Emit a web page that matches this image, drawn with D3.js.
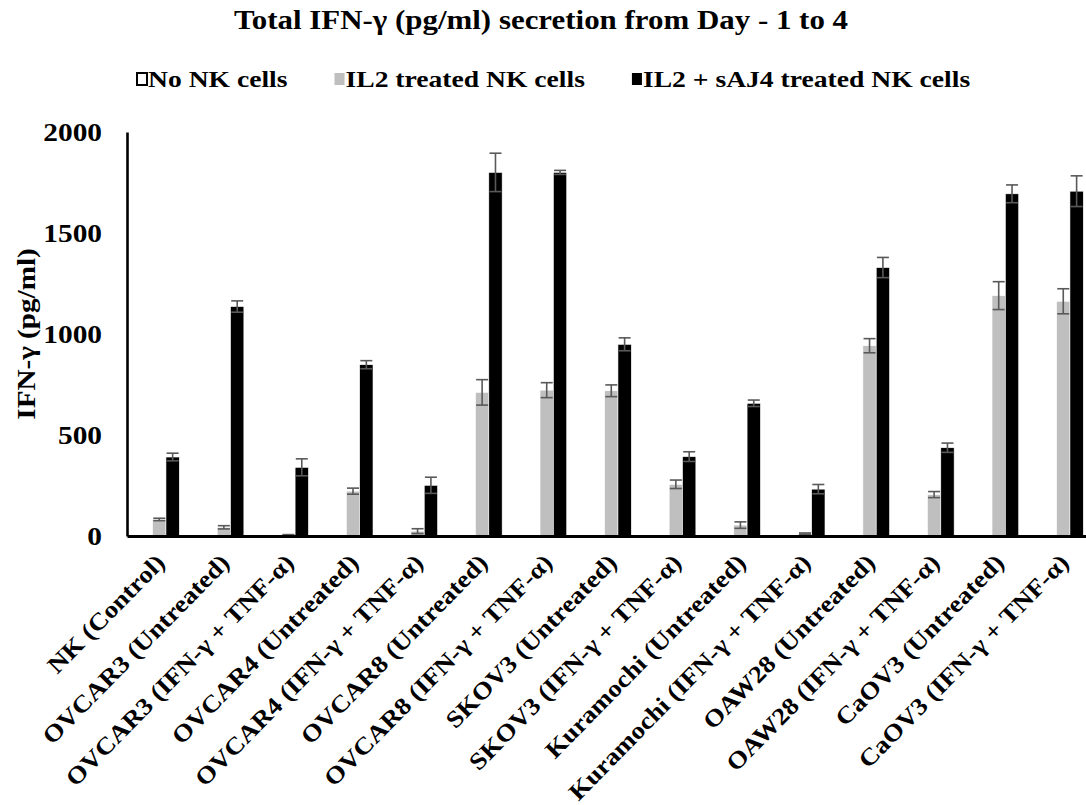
<!DOCTYPE html>
<html>
<head>
<meta charset="utf-8">
<script src="https://cdn.jsdelivr.net/npm/d3@7"></script>
<style>
  body { margin: 0; background: #fff; }
  text { font-family: "Liberation Serif", "Times New Roman", serif; font-weight: bold; fill: #000; }
</style>
</head>
<body>
<div id="chart"></div>
<script>
// Chart values
const categories = [
  "NK (Control)",
  "OVCAR3 (Untreated)",
  "OVCAR3 (IFN-γ + TNF-α)",
  "OVCAR4 (Untreated)",
  "OVCAR4 (IFN-γ + TNF-α)",
  "OVCAR8 (Untreated)",
  "OVCAR8 (IFN-γ + TNF-α)",
  "SKOV3 (Untreated)",
  "SKOV3 (IFN-γ + TNF-α)",
  "Kuramochi (Untreated)",
  "Kuramochi (IFN-γ + TNF-α)",
  "OAW28 (Untreated)",
  "OAW28 (IFN-γ + TNF-α)",
  "CaOV3 (Untreated)",
  "CaOV3 (IFN-γ + TNF-α)",
];
const seriesNames = ["No NK cells", "IL2 treated NK cells", "IL2 + sAJ4 treated NK cells"];
const noNK = [0, 0, 0, 0, 0, 0, 0, 0, 0, 0, 0, 0, 0, 0, 0];
const noNKErr = [0, 0, 0, 0, 0, 0, 0, 0, 0, 0, 0, 0, 0, 0, 0];
const il2 = [82, 43, 5, 222, 24, 711, 722, 719, 256, 54, 12, 942, 205, 1190, 1162];
const il2Err = [6, 8, 2, 15, 12, 63, 37, 29, 21, 16, 3, 35, 15, 69, 62];
const sAJ4 = [391, 1136, 340, 848, 251, 1800, 1800, 949, 393, 657, 232, 1329, 437, 1694, 1707];
const sAJ4Err = [19, 28, 42, 20, 40, 95, 10, 32, 24, 16, 23, 50, 23, 44, 76];
const yTicks = [0, 500, 1000, 1500, 2000];

const titleText = "Total IFN-γ (pg/ml) secretion from Day - 1 to 4";
const yLabel = "IFN-γ (pg/ml)";

const colors = ["#ffffff", "#bfbfbf", "#000000"];
const errColor = "#595959";

const width = 1086;
const height = 805;

// text in the reference is drawn wider than the font's natural width
function stretch(sel, factor) {
  sel.each(function () {
    const w = this.getComputedTextLength();
    d3.select(this)
      .attr("textLength", w * factor)
      .attr("lengthAdjust", "spacingAndGlyphs");
  });
}

const svg = d3
  .select("#chart")
  .append("svg")
  .attr("width", width)
  .attr("height", height);

svg.append("rect").attr("width", width).attr("height", height).attr("fill", "#fff");

// Scales
const plotLeft = 127;
const step = 64.57;
const x0 = d3
  .scaleBand()
  .domain(categories)
  .range([plotLeft, plotLeft + step * categories.length])
  .paddingInner(0.38)
  .paddingOuter(0.19);

const x1 = d3.scaleBand().domain(d3.range(3)).range([0, x0.bandwidth()]);

const y = d3.scaleLinear().domain([0, 2000]).range([536, 132]);

// Build rows for the bars
const seriesValues = [noNK, il2, sAJ4];
const seriesErrors = [noNKErr, il2Err, sAJ4Err];
const rows = [];
categories.forEach((c, i) => {
  seriesValues.forEach((vals, s) => {
    rows.push({ cat: c, s: s, value: vals[i], err: seriesErrors[s][i] });
  });
});

// Bars
svg
  .append("g")
  .selectAll("rect")
  .data(rows)
  .enter()
  .append("rect")
  .attr("x", (d) => x0(d.cat) + x1(d.s))
  .attr("y", (d) => y(d.value))
  .attr("width", x1.bandwidth())
  .attr("height", (d) => y(0) - y(d.value))
  .attr("fill", (d) => colors[d.s])
  .attr("stroke", (d) => (d.s === 0 ? "#000" : "#fff"))
  .attr("stroke-width", (d) => (d.s === 0 ? 1.5 : 0.6));

// Error bars (only where an error exists)
const errRows = rows.filter((d) => d.err > 0);
const errG = svg
  .append("g")
  .attr("stroke", errColor)
  .attr("stroke-width", 1.6)
  .attr("fill", "none");

const cx = (d) => x0(d.cat) + x1(d.s) + x1.bandwidth() / 2;

errG
  .selectAll("line.stem")
  .data(errRows)
  .enter()
  .append("line")
  .attr("class", "stem")
  .attr("x1", cx)
  .attr("x2", cx)
  .attr("y1", (d) => y(d.value + d.err))
  .attr("y2", (d) => y(Math.max(0, d.value - d.err)));

errG
  .selectAll("line.capTop")
  .data(errRows)
  .enter()
  .append("line")
  .attr("class", "capTop")
  .attr("x1", (d) => cx(d) - 6)
  .attr("x2", (d) => cx(d) + 6)
  .attr("y1", (d) => y(d.value + d.err))
  .attr("y2", (d) => y(d.value + d.err));

errG
  .selectAll("line.capBottom")
  .data(errRows)
  .enter()
  .append("line")
  .attr("class", "capBottom")
  .attr("x1", (d) => cx(d) - 6)
  .attr("x2", (d) => cx(d) + 6)
  .attr("y1", (d) => y(Math.max(0, d.value - d.err)))
  .attr("y2", (d) => y(Math.max(0, d.value - d.err)));

// Axes (Excel style: no tick marks, thick lines)
const yAxis = svg
  .append("g")
  .attr("transform", `translate(${plotLeft},0)`)
  .call(
    d3.axisLeft(y).tickValues(yTicks).tickFormat(d3.format("d")).tickSize(0).tickPadding(25)
  );
yAxis.select(".domain").attr("stroke", "#000").attr("stroke-width", 2.6);
yAxis
  .selectAll(".tick text")
  .attr("font-size", "26px")
  .attr("font-family", null)
  .call(stretch, 1.13);

const xAxis = svg
  .append("g")
  .attr("transform", `translate(0,${y(0)})`)
  .call(d3.axisBottom(x0).tickSize(0).tickFormat(""));
xAxis.select(".domain").attr("stroke", "#000").attr("stroke-width", 3);

// Rotated category labels
svg
  .append("g")
  .selectAll("text")
  .data(categories)
  .enter()
  .append("text")
  .attr("transform", (d) => `translate(${x0(d) + x0.bandwidth() / 2 + 7},564) rotate(-45.5)`)
  .attr("text-anchor", "end")
  .attr("font-size", "24px")
  .text((d) => d)
  .call(stretch, 1.13);

// Y axis title
svg
  .append("text")
  .attr("transform", `translate(35,${(y(0) + y(2000)) / 2}) rotate(-90)`)
  .attr("text-anchor", "middle")
  .attr("font-size", "26px")
  .text(yLabel)
  .call(stretch, 1.12);

// Chart title
svg
  .append("text")
  .attr("x", 541)
  .attr("y", 29)
  .attr("text-anchor", "middle")
  .attr("font-size", "27px")
  .text(titleText)
  .call(stretch, 1.145);

// Legend
const legend = svg.append("g").attr("class", "legend");
let lx = 136;
seriesNames.forEach((name, i) => {
  legend
    .append("rect")
    .attr("x", lx + 1)
    .attr("y", 73)
    .attr("width", 10)
    .attr("height", 12)
    .attr("fill", colors[i])
    .attr("stroke", i === 0 ? "#000" : "none")
    .attr("stroke-width", 2);
  const t = legend
    .append("text")
    .attr("x", lx + 12)
    .attr("y", 87)
    .attr("font-size", "24px")
    .text(name)
    .call(stretch, 1.15);
  lx += 12 + +t.attr("textLength") + 46;
});
</script>
</body>
</html>
